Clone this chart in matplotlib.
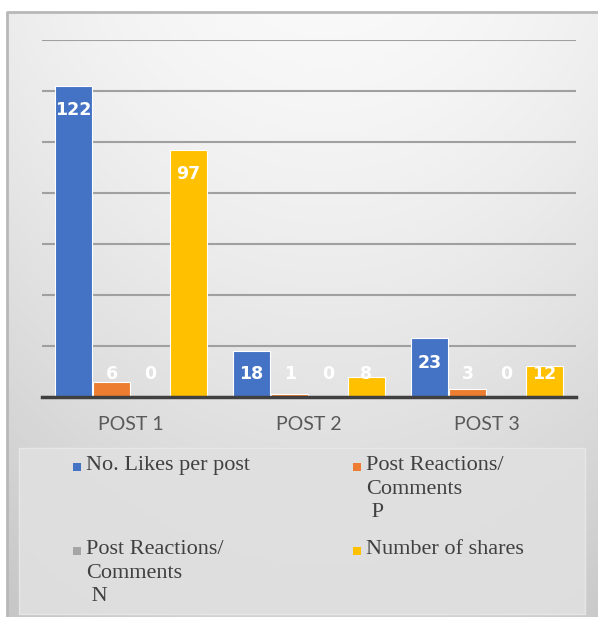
import numpy as np
import matplotlib
matplotlib.use("Agg")
import matplotlib.pyplot as plt
from matplotlib.patches import Rectangle

categories = ["POST 1", "POST 2", "POST 3"]
series_names = ["No. Likes per post",
                "Post Reactions/\nComments\n P",
                "Post Reactions/\nComments\n N",
                "Number of shares"]
likes = [122, 18, 23]
reactions_p = [6, 1, 3]
reactions_n = [0, 0, 0]
shares = [97, 8, 12]
series_values = [likes, reactions_p, reactions_n, shares]
colors = ["#4472C4", "#ED7D31", "#A5A5A5", "#FFC000"]
yticks = [0, 20, 40, 60, 80, 100, 120, 140]

W, H = 598, 617
fig = plt.figure(figsize=(W / 100, H / 100), dpi=100)
fig.patch.set_facecolor("white")

# background gradient panel
bg = fig.add_axes([0, 0, 1, 1], zorder=-5)
bg.set_xlim(0, W)
bg.set_ylim(H, 0)
bg.axis("off")
yy, xx = np.mgrid[0:H, 0:W]
val = 0.975 - 0.15 * (yy / H) ** 1.3 - 0.05 * (np.abs(xx - 320) / 320) ** 2
img = np.dstack([val, val, val])
bg.imshow(img, extent=(7, W + 5, H + 5, 12), aspect="auto", interpolation="bilinear")
bg.plot([7, 7, W + 5], [H + 5, 12, 12], color="#b8b8b8", lw=2, solid_capstyle="butt")
# legend box
bg.add_patch(Rectangle((19, 448), 566, 166, facecolor="#e0e0e0", edgecolor="#e9e9e9", lw=1, alpha=0.9))

ax = fig.add_axes([42 / W, 1 - 397 / H, (576 - 42) / W, (397 - 40) / H])
ax.set_facecolor("none")
ax.set_xlim(-0.5, len(categories) - 0.5)
ax.set_ylim(0, 140)

x = np.arange(len(categories))
width = 0.208
offsets = [-0.323, -0.108, 0.108, 0.323]
for vals, off, col in zip(series_values, offsets, colors):
    bars = ax.bar(x + off, vals, width=width, color=col, edgecolor="white", linewidth=0.8, zorder=3)
    for b, v in zip(bars, vals):
        yc = max(v - 9.5, 9.1)
        ax.text(b.get_x() + b.get_width() / 2, yc, str(v), ha="center", va="center",
                color="white", fontsize=12.5, fontweight="bold", family="DejaVu Sans", zorder=4)

ax.set_yticks(yticks)
ax.yaxis.grid(True, color="#a0a0a0", lw=1.5, zorder=0)
ax.set_axisbelow(True)
ax.tick_params(axis="y", length=0, labelleft=False)
ax.set_xticks(x)
ax.set_xticklabels(categories, fontsize=14, color="#595959", family="Lato")
ax.tick_params(axis="x", length=0, pad=14)
for s in ["top", "right", "left"]:
    ax.spines[s].set_visible(False)
ax.spines["bottom"].set_color("#404040")
ax.spines["bottom"].set_linewidth(2.5)
ax.spines["bottom"].set_zorder(5)

# legend
col_marker_x = [77, 357]
row_y = [467, 551]
for i, (name, col) in enumerate(zip(series_names, colors)):
    cx = col_marker_x[i % 2]
    cy = row_y[i // 2]
    bg.add_patch(Rectangle((cx - 4, cy - 4), 8, 8, facecolor=col, edgecolor="none", zorder=3))
    bg.text(cx + 9, cy - 11, name, ha="left", va="top", fontsize=16, family="Liberation Serif",
            color="#404040", linespacing=1.33, zorder=3)

fig.savefig("out.png", dpi=100, facecolor=fig.get_facecolor())
